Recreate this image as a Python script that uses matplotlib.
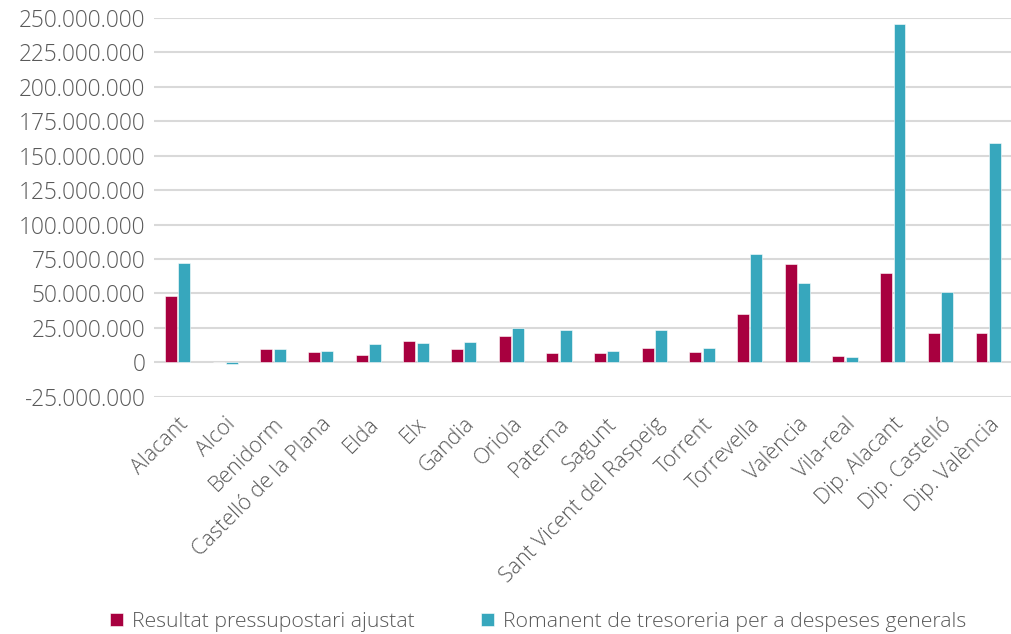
import numpy as np
import matplotlib
matplotlib.use("Agg")
import matplotlib.pyplot as plt
from matplotlib.ticker import FuncFormatter

plt.rcParams['font.family'] = ['Open Sans', 'DejaVu Sans']
plt.rcParams['font.weight'] = 'light'

entitats = ['Alacant', 'Alcoi', 'Benidorm', 'Castelló de la Plana', 'Elda', 'Elx',
            'Gandia', 'Oriola', 'Paterna', 'Sagunt', 'Sant Vicent del Raspeig',
            'Torrent', 'Torrevella', 'València', 'Vila-real', 'Dip. Alacant',
            'Dip. Castelló', 'Dip. València']

# imports in euros
resultat = [48.0e6, 0.0, 9.4e6, 7.2e6, 5.5e6, 15.2e6,
            9.4e6, 19.3e6, 6.8e6, 6.8e6, 10.6e6,
            7.7e6, 35.0e6, 71.7e6, 4.6e6, 64.5e6,
            21.5e6, 21.6e6]
romanent = [72.2e6, -1.2e6, 9.4e6, 8.2e6, 13.3e6, 14.2e6,
            14.7e6, 24.9e6, 23.7e6, 8.2e6, 23.7e6,
            10.6e6, 79.0e6, 57.5e6, 3.9e6, 245.5e6,
            51.0e6, 159.0e6]

roig = '#a8003f'
blau = '#37a7bd'
gris = '#595959'

fig = plt.figure(figsize=(10.12, 6.34), dpi=100)
ax = fig.add_axes([0.152, 0.374, 0.848, 0.598])

x = np.arange(len(entitats))
w = 0.25
ax.bar(x - 0.14, resultat, w, color=roig, edgecolor='white', linewidth=0.4,
       label='Resultat pressupostari ajustat', zorder=3)
ax.bar(x + 0.14, romanent, w, color=blau, edgecolor='white', linewidth=0.4,
       label='Romanent de tresoreria per a despeses generals', zorder=3)

ax.set_xlim(-0.5, len(entitats) - 0.5)
ax.set_ylim(-25e6, 250e6)
ax.set_yticks(np.arange(-25e6, 250e6 + 1, 25e6))
ax.yaxis.set_major_formatter(FuncFormatter(lambda v, p: f'{v:,.0f}'.replace(',', '.')))
ax.grid(axis='y', color='#d9d9d9', linewidth=1.5, zorder=0)
for s in ax.spines.values():
    s.set_visible(False)
ax.tick_params(axis='both', length=0, labelcolor=gris)
ax.tick_params(axis='y', pad=6, labelsize=16.3)

ax.set_xticks(x)
ax.set_xticklabels(entitats, rotation=45, ha='right', rotation_mode='anchor')
ax.tick_params(axis='x', pad=12, labelsize=15.5)

leg = fig.legend(loc='lower center', bbox_to_anchor=(0.532, -0.027), ncol=2, frameon=False,
                 fontsize=15.3, labelcolor=gris, handlelength=0.6, handleheight=0.6,
                 handletextpad=0.45, columnspacing=3.1)

fig.savefig('out.png', dpi=100)
